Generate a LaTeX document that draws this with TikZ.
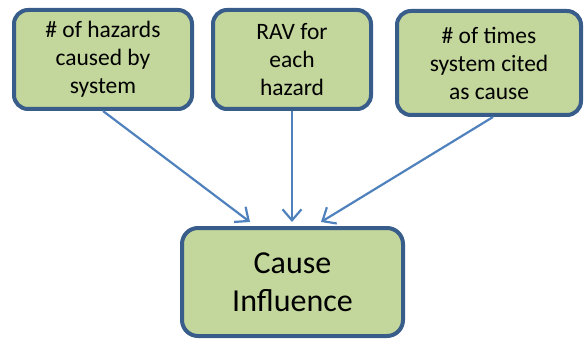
\documentclass[tikz,border=0pt]{standalone}
\usepackage{fontspec}
\setmainfont{Carlito}
\usetikzlibrary{arrows.meta}
\definecolor{boxfill}{HTML}{C3D69B}
\definecolor{boxline}{HTML}{385D8A}
\definecolor{arrowc}{HTML}{4F81BD}
\begin{document}
\begin{tikzpicture}[x=1pt,y=-1pt,
  srcbox/.style={draw=boxline, fill=boxfill, line width=4pt, rounded corners=14pt,
    align=center, inner sep=0pt, font=\fontsize{23.5}{28}\selectfont},
  resbox/.style={draw=boxline, fill=boxfill, line width=4pt, rounded corners=16pt,
    align=center, inner sep=0pt, font=\fontsize{32}{38}\selectfont},
  conn/.style={draw=arrowc, line width=2.2pt, -{Straight Barb[length=11pt,width=19pt,line width=2.2pt]}}]
\useasboundingbox (0,0) rectangle (585,339);
\node[srcbox, minimum width=178pt, minimum height=99pt] (b1) at (103,59.5)
  {\# of hazards\\caused by\\system};
\node[srcbox, minimum width=158pt, minimum height=99pt] (b2) at (292,59.5)
  {RAV for\\each\\hazard};
\node[srcbox, minimum width=184pt, minimum height=104pt] (b3) at (489,63)
  {\# of times\\system cited\\as cause};
\node[resbox, minimum width=221pt, minimum height=108pt] (bot) at (292.5,282)
  {Cause\\Influence};
\coordinate (t1) at (250,222);
\coordinate (t2) at (292,222);
\coordinate (t3) at (321,222);
\draw[conn] (b1.south) -- (t1);
\draw[conn] (b2.south) -- (t2);
\draw[conn] ([xshift=4pt]b3.south) -- (t3);
\end{tikzpicture}
\end{document}
